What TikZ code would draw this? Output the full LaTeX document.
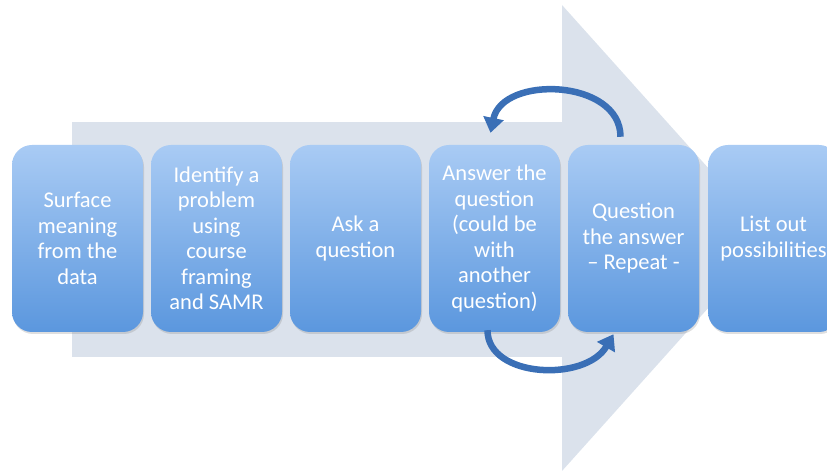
\documentclass[tikz,border=0pt]{standalone}
\usepackage{fontspec}
\setmainfont{Carlito}
\usetikzlibrary{arrows.meta,shadows}
\definecolor{bandgrey}{HTML}{DBE2EC}
\definecolor{boxtop}{HTML}{A9CBF4}
\definecolor{boxbottom}{HTML}{5B97DE}
\definecolor{loopblue}{HTML}{3A6FB6}
\tikzset{
  stage/.style={rounded corners=20pt, top color=boxtop, bottom color=boxbottom,
    minimum width=131pt, minimum height=187pt, inner sep=0pt,
    align=center, text=white, font=\fontsize{22.5}{25.5}\selectfont,
    drop shadow={shadow xshift=1pt, shadow yshift=-2pt, opacity=0.25}},
  loop/.style={line width=6.5pt, color=loopblue,
    -{Triangle[length=15pt,width=20pt]}}
}
\begin{document}
\begin{tikzpicture}[x=1pt,y=1pt]
\useasboundingbox (0,0) rectangle (827,471);
\clip (0,0) rectangle (827,471);
% background process arrow
\fill[bandgrey] (72,114) rectangle (562,349);
\fill[bandgrey] (562,466) -- (771,233) -- (562,0) -- cycle;
% stages
\node[stage] (s1) at (77.5,232.5) {Surface\\meaning\\from the\\data};
\node[stage] (s2) at (216.5,232.5) {Identify a\\problem\\using\\course\\framing\\and SAMR};
\node[stage] (s3) at (355.5,232.5) {Ask a\\question};
\node[stage] (s4) at (494.5,232.5) {Answer the\\question\\(could be\\with\\another\\question)};
\node[stage] (s5) at (633.5,232.5) {Question\\the answer\\– Repeat -};
\node[stage] (s6) at (773.5,232.5) {List out\\possibilities};
% repeat loop between answering and questioning
\draw[loop] ([xshift=-13pt,yshift=8pt]s5.north) .. controls +(0,58) and +(12,58) .. ([xshift=-4pt,yshift=12pt]s4.north);
\draw[loop] ([xshift=-7pt,yshift=2pt]s4.south) .. controls +(0,-48) and +(-28,-48) .. ([xshift=-20pt,yshift=-2pt]s5.south);
\end{tikzpicture}
\end{document}
